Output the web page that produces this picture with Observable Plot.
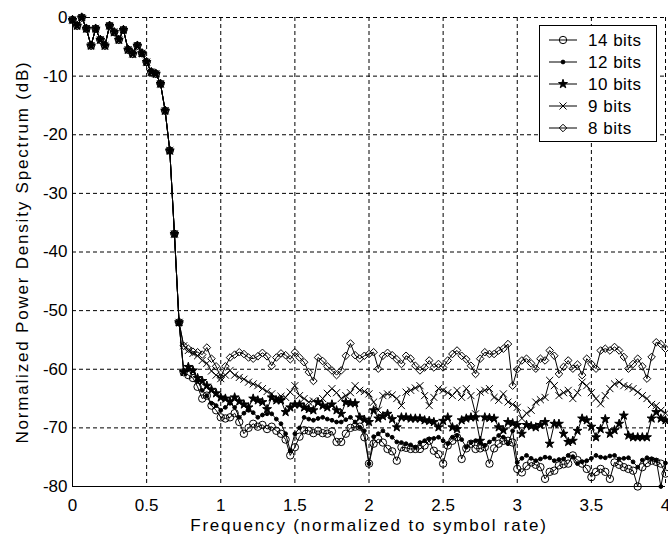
<!DOCTYPE html>
<html><head><meta charset="utf-8">
<script src="https://cdn.jsdelivr.net/npm/d3@7"></script>
<script src="https://cdn.jsdelivr.net/npm/@observablehq/plot@0.6"></script>
<style>
html,body{margin:0;padding:0;background:#fff;}
#chart{width:668px;height:538px;position:relative;}
</style></head><body><div id="chart"></div>
<script>
const FREQ_STEP = 1/32;
const xTicks = [0,0.5,1,1.5,2,2.5,3,3.5,4];
const yTicks = [0,-10,-20,-30,-40,-50,-60,-70,-80];
const xLabel = "Frequency (normalized to symbol rate)";
const yLabel = "Normalized Power Density Spectrum (dB)";
const seriesNames = ["14 bits","12 bits","10 bits","9 bits","8 bits"];

// shared main lobe (all resolutions coincide), f = 0 .. 0.71875
const mainLobe = [-0.4,-1.4,0,-1.9,-4.8,-1.9,-3.8,-4.8,-1.4,-2.5,-3.8,-2.1,-5.5,-6.2,-4.8,-6.1,-7.6,-9.3,-9.6,-11.3,-15.9,-22.7,-36.9,-52];

// tails, f = 0.75 .. 4.0
const tail14 = [
-60.5,-61,-61.5,-63,-65,-64.5,-66.2,-67,
-68.2,-68.4,-68.2,-67.5,-69,-71,-70,-69.3,
-69.8,-69.5,-70.2,-69.8,-70.5,-71,-72,-74.7,
-73.3,-71.5,-70.4,-70.5,-70.9,-70.5,-70.9,-71,
-70.6,-72.4,-72.4,-71,-70,-69.8,-69.8,-71.6,
-76.1,-72.7,-71.9,-72.5,-73.6,-74,-75.6,-73.3,
-73.4,-73.6,-73.6,-73.6,-73,-72.2,-73.9,-74.5,
-76.1,-73,-72.2,-71.6,-75.3,-73.5,-72.7,-73.6,
-73.5,-73.3,-76.1,-73.5,-72.7,-72.2,-72.2,-72.5,
-77,-77.6,-76.5,-75.9,-76.3,-76.7,-78.7,-77.5,
-77.3,-76.4,-76.2,-76.1,-74.7,-75.5,-76.1,-77,
-78.4,-77.5,-77,-77.5,-78.7,-75.9,-76.3,-76.7,
-77,-77.3,-80,-76.7,-76,-75.6,-75.8,-76.1,
-77.8];
const tail12 = [
-60.3,-60,-60.2,-62,-63.6,-64.5,-65.8,-66.2,
-67,-66.5,-65.8,-66.5,-68.2,-67.5,-67,-67.4,
-68.2,-67.8,-67.6,-67.6,-68.5,-69.3,-71,-73.9,
-71,-70,-68.2,-68.5,-68.7,-68.4,-68.2,-68.5,
-68.7,-69,-69,-68.6,-68.2,-69,-69.9,-70.5,
-76.1,-71.5,-71,-70.5,-71.2,-71.6,-72.4,-72.5,
-72.7,-72.9,-73.3,-72.5,-72.2,-71.9,-71.8,-71.6,
-72.2,-72.7,-71.6,-71.3,-72,-73.3,-72.5,-72.2,
-72.6,-73,-72.4,-71.9,-71.3,-71.6,-72.7,-70.5,
-75.9,-75.2,-74.7,-75.2,-75.6,-75.3,-75,-75.1,
-75.6,-75.4,-75.3,-74.7,-74.9,-76.1,-75.8,-75.6,
-75.2,-74.7,-75,-75.1,-74.8,-74.7,-75.3,-75.2,
-75.1,-75.8,-76.7,-75.5,-75.1,-75.3,-75.5,-80,
-76];
const tail10 = [
-60.5,-59.6,-60.2,-61.5,-62,-62.8,-63.5,-64.1,
-64.8,-65,-65.5,-64.8,-65.5,-66,-66.5,-65,
-65.3,-65.6,-66.8,-64.8,-65.3,-65.3,-67.3,-66.5,
-66,-66,-66.5,-66.8,-67,-65.6,-66.2,-66.5,
-66,-67,-67.6,-65.6,-65.8,-65.8,-68.2,-68.6,
-69,-67,-68.4,-68,-67.6,-68.5,-69.9,-68.2,
-68.2,-68.4,-68.4,-68.4,-68.7,-68.8,-69,-69.9,
-68.8,-68.2,-69.9,-70.2,-68.7,-68.4,-68.2,-68.2,
-72.2,-68.2,-68.3,-68.4,-69.9,-70.4,-69,-69.2,
-69.5,-71,-69.5,-69.7,-69.9,-69.5,-69,-72.7,
-69.3,-69.3,-71,-72.4,-72.2,-70.5,-68.4,-68.7,
-69.8,-71.6,-70.2,-68.5,-71,-70.4,-69.3,-67.9,
-71.3,-71.6,-71.6,-71.6,-71.6,-68.4,-67.3,-68.4,
-68.7];
const tail9 = [
-56,-56.8,-57.3,-57.7,-58.5,-59,-60.3,-61,
-61.6,-61,-60.2,-61,-61.4,-61.7,-62.2,-62.5,
-62.8,-63.3,-63.8,-64.2,-65,-64.6,-64.8,-63.9,
-62.8,-64.5,-65,-65.6,-65.4,-65.8,-65,-64.1,
-63.3,-64,-65,-64.5,-64,-62.8,-63.6,-63.8,
-64.2,-65.6,-67,-64.5,-64.2,-64.4,-65,-66.2,
-63.9,-63.6,-63.2,-62.8,-64.5,-66.2,-64.8,-63.3,
-63.6,-64,-64.5,-63.6,-64.8,-63.3,-64.5,-67.6,
-63.9,-63.6,-63.3,-64.8,-65.3,-64.2,-65.6,-66,
-66.5,-68.4,-67.5,-67,-65.6,-65.2,-64.8,-61.9,
-62.8,-64.5,-64,-63.6,-65,-64,-62.2,-62.8,
-64,-65,-65.9,-64.5,-63.3,-62.5,-62.2,-62.8,
-63,-63.3,-63.9,-64.5,-65,-66,-66.2,-67,
-67.5];
const tail8 = [
-56,-56.5,-57,-57.1,-57.5,-56.3,-58.2,-59.5,
-61.4,-59.5,-58,-57.5,-57.1,-57.4,-58,-58.2,
-57.8,-57.2,-57.8,-59.4,-58,-57.3,-57.6,-58.3,
-57.1,-58,-58.8,-60.5,-62,-58,-58.6,-59.5,
-60.2,-61,-60.2,-57.7,-55.6,-57.6,-58.2,-57.7,
-57.4,-57.1,-59.9,-57.7,-57.2,-57.6,-58.3,-59.1,
-57.7,-58.2,-59.4,-60.2,-59.7,-58.5,-59.7,-59.1,
-59.7,-58.5,-57.4,-56.8,-57.7,-58.3,-59.4,-60.8,
-58.2,-57.1,-57.4,-57.4,-56.8,-56.5,-55.7,-62.8,
-60,-58.5,-58.2,-59,-59.9,-58.2,-58.5,-56.8,
-57.7,-60.8,-59.6,-58.5,-59.9,-59.2,-61,-58.2,
-59.1,-59.9,-56.8,-56.5,-56.8,-56.2,-56.8,-57.9,
-59.9,-59.1,-58.2,-59.5,-61.6,-57.9,-55.4,-55.7,
-56.5];
const tails = {"14 bits":tail14,"12 bits":tail12,"10 bits":tail10,"9 bits":tail9,"8 bits":tail8};

const markerStyle = {
  "14 bits": {symbol:"circle", r:3.7, fill:"none"},
  "12 bits": {symbol:"circle", r:1.9, fill:"black"},
  "10 bits": {symbol:"star", r:2.8, fill:"black"},
  "9 bits":  {symbol:"times", r:3.3, fill:"none"},
  "8 bits":  {symbol:"diamond2", r:3.4, fill:"none"}
};

const seriesMarks = [];
for (const name of seriesNames) {
  const vals = mainLobe.concat(tails[name]);
  const rows = vals.map((v,i)=>({f:i*FREQ_STEP, db:v, s:name}));
  const st = markerStyle[name];
  seriesMarks.push(Plot.line(rows, {x:"f", y:"db", stroke:"black", strokeWidth:1}));
  seriesMarks.push(Plot.dot(rows, {x:"f", y:"db", symbol:st.symbol, r:st.r, fill:st.fill, stroke:"black", strokeWidth:1}));
}

const grid = {stroke:"black", strokeOpacity:1, strokeWidth:1, strokeDasharray:"4,3"};
const plot = Plot.plot({
  width:668, height:538,
  marginLeft:72, marginRight:3, marginTop:17, marginBottom:52,
  x:{domain:[0,4]}, y:{domain:[-80,0]},
  style:{fontFamily:"'Liberation Sans', Arial, Helvetica, sans-serif", fontSize:"17px", background:"white", color:"black", overflow:"visible"},
  marks:[
    Plot.gridX(xTicks.slice(1), grid),
    Plot.gridY(yTicks.slice(0,-1), grid),
    Plot.ruleX([0], {stroke:"black", strokeWidth:1}),
    Plot.ruleY([-80], {stroke:"black", strokeWidth:1}),
    Plot.axisX(xTicks, {tickSize:0, tickPadding:12, tickFormat:d=>String(d), label:null}),
    Plot.axisY(yTicks, {tickSize:0, tickPadding:5, tickFormat:d=>String(d), label:null}),
    ...seriesMarks,
    Plot.text([xLabel], {frameAnchor:"bottom", dy:39, lineAnchor:"middle", textAnchor:"middle", text:d=>d, fontSize:17}),
    Plot.text([yLabel], {frameAnchor:"left", dx:-50, rotate:-90, lineAnchor:"middle", textAnchor:"middle", text:d=>d, fontSize:17})
  ]
});

const svg = d3.select(plot);
svg.selectAll('g[aria-label="text"] text').attr("letter-spacing","1.8px");

// legend
const symMap = {circle:d3.symbolCircle, star:d3.symbolStar, times:d3.symbolTimes, diamond2:d3.symbolDiamond2};
const lg = svg.append("g").attr("aria-label","legend");
lg.append("rect").attr("x",539.5).attr("y",25.5).attr("width",117).attr("height",116)
  .attr("fill","white").attr("stroke","black");
seriesNames.forEach((name,i)=>{
  const cy = 40 + i*22;
  const st = markerStyle[name];
  lg.append("line").attr("x1",549).attr("x2",577).attr("y1",cy).attr("y2",cy).attr("stroke","black");
  lg.append("path").attr("d", d3.symbol(symMap[st.symbol], Math.PI*st.r*st.r)())
    .attr("transform",`translate(563,${cy})`).attr("fill",st.fill).attr("stroke","black");
  lg.append("text").attr("x",588).attr("y",cy).attr("dy","0.35em").attr("text-anchor","start")
    .attr("font-size","17px").attr("letter-spacing","0.5px").attr("fill","black").text(name);
});

document.getElementById("chart").appendChild(plot);
</script></body></html>
